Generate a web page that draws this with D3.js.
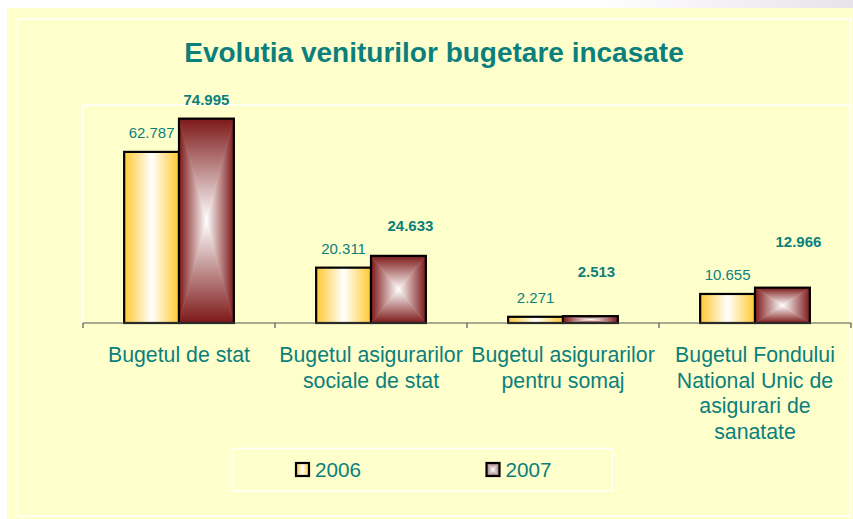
<!DOCTYPE html>
<html>
<head>
<meta charset="utf-8">
<script src="https://cdn.jsdelivr.net/npm/d3@7"></script>
<style>
  html, body { margin: 0; padding: 0; background: #fff; }
  svg { display: block; }
  text { font-family: Arial, "Liberation Sans", sans-serif; }
</style>
</head>
<body>
<svg id="chart" width="853" height="519"></svg>
<script>
// date
const title = "Evolutia veniturilor bugetare incasate";
const categories = [
    ["Bugetul de stat"],
    ["Bugetul asigurarilor", "sociale de stat"],
    ["Bugetul asigurarilor", "pentru somaj"],
    ["Bugetul Fondului", "National Unic de", "asigurari de", "sanatate"]
];
const years = ["2006", "2007"];
const values2006 = [62.787, 20.311, 2.271, 10.655];
const values2007 = [74.995, 24.633, 2.513, 12.966];
const yTicks = [0, 80];

// etichetele 2007 au fost mutate manual in original
const label2007dx = [0, 12, 6, 16];
const label2007gap = [14, 25, 39, 41];

const W = 853, H = 519;
const teal = "#0b7f7c";
const gold = "#ffc82c";
const wine = "#7d1818";

const svg = d3.select("#chart");
const defs = svg.append("defs");

// fundal
const bg = defs.append("linearGradient").attr("id", "bgGrad")
    .attr("x1", 0).attr("x2", 1).attr("y1", 0).attr("y2", 0);
bg.append("stop").attr("offset", "0.7").attr("stop-color", "#ffffff");
bg.append("stop").attr("offset", "1").attr("stop-color", "#e8e2ea");
svg.append("rect").attr("width", W).attr("height", H).attr("fill", "url(#bgGrad)");
svg.append("rect").attr("x", 7).attr("y", 8).attr("width", W - 7).attr("height", H - 8)
    .attr("fill", "#ffffcc");
svg.append("rect").attr("x", 17.5).attr("y", 19).attr("width", 851 - 17.5).attr("height", 516 - 19)
    .attr("fill", "none").attr("stroke", "#fff").attr("stroke-width", 1.5);

// gradient vertical pe benzi (2006)
const makeStripe = (id, c) => {
    const g = defs.append("linearGradient").attr("id", id)
        .attr("x1", 0).attr("x2", 1).attr("y1", 0).attr("y2", 0);
    g.append("stop").attr("offset", 0).attr("stop-color", c);
    g.append("stop").attr("offset", 0.5).attr("stop-color", "#fff");
    g.append("stop").attr("offset", 1).attr("stop-color", c);
};
makeStripe("g2006", gold);

// gradient "din centru" (2007): patru triunghiuri
const makeSides = (prefix, c) => {
    const dirs = {
        top: [0, 0, 0, 1], bottom: [0, 1, 0, 0],
        left: [0, 0, 1, 0], right: [1, 0, 0, 0]
    };
    Object.keys(dirs).forEach(k => {
        const d = dirs[k];
        const g = defs.append("linearGradient").attr("id", prefix + k)
            .attr("x1", d[0]).attr("y1", d[1]).attr("x2", d[2]).attr("y2", d[3]);
        g.append("stop").attr("offset", 0).attr("stop-color", c);
        g.append("stop").attr("offset", 1).attr("stop-color", "#fff");
    });
};
makeSides("g2007", wine);
makeSides("l2007", "#9a7577");

const drawCenterFill = (g, x0, y0, w, h, prefix) => {
    const x1 = x0 + w, y1 = y0 + h, cx = x0 + w / 2, cy = y0 + h / 2;
    const tri = [
        ["top", [[x0, y0], [x1, y0], [cx, cy]]],
        ["bottom", [[x0, y1], [x1, y1], [cx, cy]]],
        ["left", [[x0, y0], [x0, y1], [cx, cy]]],
        ["right", [[x1, y0], [x1, y1], [cx, cy]]]
    ];
    tri.forEach(t => {
        g.append("path")
            .attr("d", "M" + t[1].map(p => p.join(",")).join("L") + "Z")
            .attr("fill", `url(#${prefix}${t[0]})`)
            .attr("stroke", `url(#${prefix}${t[0]})`)
            .attr("stroke-width", 0.6);
    });
};

// titlu
svg.append("text")
    .attr("x", 434).attr("y", 62)
    .attr("text-anchor", "middle")
    .attr("fill", teal)
    .style("font-size", "28px")
    .style("font-weight", "bold")
    .text(title);

// scale
const plot = { left: 83, right: 851, top: 105, bottom: 323 };
const x = d3.scaleBand()
    .domain(d3.range(categories.length))
    .range([plot.left, plot.right])
    .padding(0);
const xInner = d3.scaleBand()
    .domain(years)
    .range([0, x.bandwidth()])
    .paddingInner(0)
    .paddingOuter(0.75);
const y = d3.scaleLinear()
    .domain(d3.extent(yTicks))
    .range([plot.bottom, plot.top]);

// zona graficului
svg.append("path")
    .attr("d", `M${plot.left},${plot.bottom}V${plot.top}H${plot.right - 1}V${plot.bottom}`)
    .attr("fill", "none").attr("stroke", "#fff").attr("stroke-width", 1.5);

// bare
const series = [values2006, values2007];
const bars = svg.append("g").attr("class", "bars");
categories.forEach((c, i) => {
    years.forEach((yr, j) => {
        const v = series[j][i];
        const bx = x(i) + xInner(yr);
        const by = y(v);
        const bw = xInner.bandwidth();
        const bh = y(0) - by;
        const g = bars.append("g");
        if (j === 0) {
            g.append("rect").attr("x", bx).attr("y", by).attr("width", bw).attr("height", bh)
                .attr("fill", "url(#g2006)");
        } else {
            drawCenterFill(g, bx, by, bw, bh, "g2007");
        }
        g.append("rect").attr("x", bx).attr("y", by).attr("width", bw).attr("height", bh)
            .attr("fill", "none").attr("stroke", "#000").attr("stroke-width", 2.2);

        // etichete
        const dx = j === 0 ? 0 : label2007dx[i];
        const gap = j === 0 ? 14 : label2007gap[i];
        svg.append("text")
            .attr("x", bx + bw / 2 + dx)
            .attr("y", by - gap)
            .attr("text-anchor", "middle")
            .attr("fill", teal)
            .style("font-size", "15px")
            .style("font-weight", j === 0 ? "normal" : "bold")
            .text(d3.format(".3f")(v));
    });
});

// axa
const axis = svg.append("g");
axis.append("line")
    .attr("x1", plot.left).attr("x2", plot.right)
    .attr("y1", plot.bottom).attr("y2", plot.bottom)
    .attr("stroke", "#555").attr("stroke-width", 1.2);
const tickX = d3.range(categories.length).map(i => x(i)).concat([plot.right]);
axis.selectAll(".tick").data(tickX).enter().append("line")
    .attr("x1", d => d).attr("x2", d => d)
    .attr("y1", plot.bottom).attr("y2", plot.bottom + 5)
    .attr("stroke", "#555").attr("stroke-width", 1.2);

// etichete categorii
categories.forEach((lines, i) => {
    const t = svg.append("text")
        .attr("x", x(i) + x.bandwidth() / 2)
        .attr("y", 362)
        .attr("text-anchor", "middle")
        .attr("fill", teal)
        .style("font-size", "21.3px");
    lines.forEach((l, k) => {
        t.append("tspan")
            .attr("x", x(i) + x.bandwidth() / 2)
            .attr("y", 362 + k * 25.7)
            .text(l);
    });
});

// legenda
const legend = svg.append("g");
legend.append("rect")
    .attr("x", 233).attr("y", 448.5).attr("width", 379).attr("height", 42.5)
    .attr("fill", "none").attr("stroke", "#fff").attr("stroke-width", 1.5);
const legendX = [296, 486.5];
years.forEach((yr, j) => {
    const lx = legendX[j], ly = 463, s = 13;
    const g = legend.append("g");
    if (j === 0) {
        g.append("rect").attr("x", lx).attr("y", ly).attr("width", s).attr("height", s)
            .attr("fill", "url(#g2006)");
    } else {
        drawCenterFill(g, lx, ly, s, s, "l2007");
    }
    g.append("rect").attr("x", lx).attr("y", ly).attr("width", s).attr("height", s)
        .attr("fill", "none").attr("stroke", "#000").attr("stroke-width", 2.2);
    legend.append("text")
        .attr("x", lx + s + 6).attr("y", 477)
        .attr("fill", teal)
        .style("font-size", "20.7px")
        .text(yr);
});
</script>
</body>
</html>
